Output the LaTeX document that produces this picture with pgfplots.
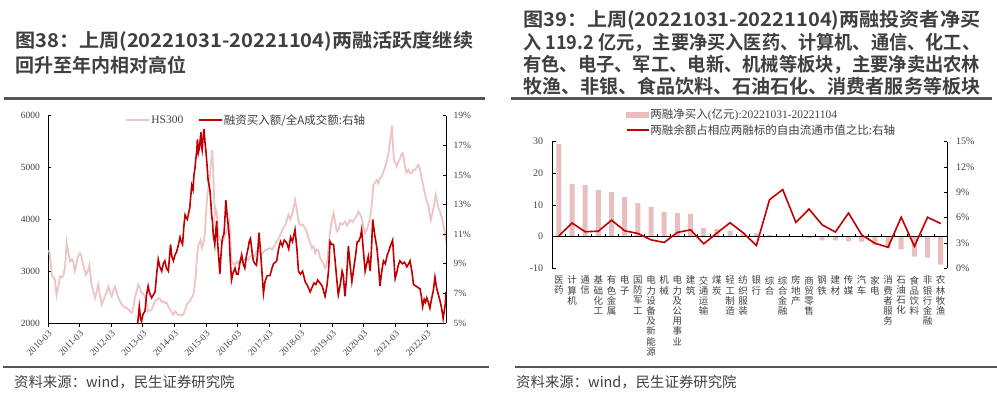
\documentclass[border=0pt]{standalone}
\usepackage{fontspec}
\usepackage{graphicx}
\setmainfont{Liberation Serif}
\newfontfamily\cjk{Noto Sans CJK SC}
\newfontfamily\cjkb{Noto Sans CJK SC Bold}
\usepackage{pgfplots}
\usepackage{pgfplotstable}
\pgfplotsset{compat=1.18}
\definecolor{hspink}{HTML}{ECC4C4}
\definecolor{dred}{HTML}{C00000}
\definecolor{bpink}{HTML}{E8BEBE}
\definecolor{txt}{HTML}{404040}
\definecolor{ttl}{HTML}{3F3F3F}
\definecolor{sepc}{HTML}{555555}

\pgfplotstableread{
x y
2010.17 3400
2010.20 3380
2010.24 3200
2010.28 2930
2010.33 2880
2010.38 2835
2010.43 2546
2010.46 2650
2010.49 2707
2010.54 2900
2010.60 2880
2010.65 2920
2010.70 3090
2010.75 3540
2010.79 3400
2010.86 3190
2010.92 3230
2010.96 3180
2011.01 3000
2011.05 3100
2011.09 3250
2011.13 3300
2011.17 3350
2011.22 3280
2011.26 3150
2011.31 3050
2011.36 2930
2011.42 3000
2011.47 3120
2011.50 2950
2011.54 2740
2011.60 2600
2011.65 2480
2011.70 2600
2011.75 2740
2011.80 2550
2011.86 2355
2011.92 2450
2011.96 2515
2012.02 2600
2012.07 2707
2012.12 2600
2012.18 2515
2012.23 2620
2012.28 2707
2012.33 2600
2012.39 2480
2012.44 2420
2012.49 2355
2012.55 2330
2012.60 2290
2012.65 2300
2012.70 2260
2012.75 2230
2012.81 2195
2012.86 2300
2012.91 2480
2012.96 2600
2013.02 2740
2013.07 2680
2013.12 2580
2013.18 2560
2013.23 2515
2013.28 2400
2013.33 2225
2013.38 2240
2013.44 2260
2013.50 2350
2013.55 2420
2013.62 2460
2013.70 2480
2013.76 2400
2013.81 2420
2013.86 2380
2013.91 2400
2013.96 2330
2014.02 2260
2014.08 2200
2014.13 2160
2014.18 2230
2014.23 2200
2014.29 2150
2014.34 2160
2014.39 2150
2014.44 2160
2014.50 2250
2014.55 2355
2014.60 2400
2014.65 2420
2014.70 2480
2014.76 2545
2014.80 2700
2014.84 2930
2014.88 3300
2014.92 3510
2014.96 3550
2014.99 3605
2015.03 3450
2015.07 3510
2015.10 3600
2015.13 3770
2015.18 4280
2015.21 4500
2015.24 4600
2015.28 4800
2015.31 5050
2015.34 5200
2015.36 5340
2015.39 4920
2015.42 4400
2015.44 4090
2015.47 4200
2015.50 4150
2015.53 3900
2015.55 3700
2015.60 3620
2015.66 3570
2015.70 3600
2015.73 3640
2015.77 3700
2015.81 3770
2015.86 3850
2015.90 3960
2015.93 3600
2015.97 3190
2016.02 3150
2016.08 3120
2016.13 3180
2016.18 3150
2016.24 3220
2016.29 3220
2016.34 3190
2016.39 3230
2016.45 3250
2016.50 3220
2016.55 3280
2016.60 3300
2016.66 3315
2016.71 3290
2016.76 3380
2016.82 3420
2016.87 3350
2016.93 3320
2016.98 3380
2017.04 3400
2017.10 3420
2017.19 3445
2017.26 3420
2017.32 3480
2017.40 3570
2017.46 3620
2017.52 3720
2017.61 3830
2017.68 3900
2017.77 4090
2017.83 4000
2017.88 4090
2017.93 4200
2017.98 4375
2018.02 4250
2018.06 4090
2018.10 3950
2018.14 3890
2018.22 3900
2018.30 3830
2018.35 3760
2018.40 3640
2018.46 3550
2018.51 3445
2018.56 3480
2018.62 3350
2018.67 3420
2018.72 3400
2018.78 3250
2018.83 3190
2018.88 3150
2018.93 3060
2018.97 3100
2019.01 3250
2019.05 3500
2019.09 3770
2019.14 3950
2019.20 4120
2019.25 3950
2019.30 3770
2019.35 3800
2019.41 3925
2019.48 3900
2019.56 3960
2019.63 3880
2019.72 3990
2019.80 3950
2019.88 4020
2019.94 4080
2019.99 4150
2020.04 4100
2020.09 4020
2020.15 3850
2020.20 3735
2020.25 3800
2020.30 3890
2020.36 4050
2020.41 4280
2020.46 4665
2020.51 4700
2020.57 4760
2020.62 4700
2020.67 4795
2020.72 4820
2020.78 4920
2020.83 5000
2020.88 5115
2020.93 5250
2020.99 5500
2021.02 5650
2021.05 5805
2021.08 5450
2021.12 5115
2021.16 5100
2021.20 5020
2021.25 5100
2021.31 5180
2021.35 5250
2021.39 5275
2021.43 5150
2021.46 5020
2021.51 4900
2021.57 4955
2021.62 4900
2021.67 4890
2021.72 4950
2021.78 4955
2021.83 5000
2021.89 5050
2021.94 4950
2021.99 4795
2022.04 4650
2022.10 4470
2022.15 4350
2022.20 4280
2022.24 4100
2022.28 3990
2022.32 4100
2022.36 4215
2022.40 4350
2022.43 4470
2022.48 4350
2022.52 4215
2022.57 4150
2022.62 4055
2022.66 3950
2022.70 3830
2022.73 3700
2022.76 3570
}\hsdata

\pgfplotstableread{
x y
2013.00 5.0
2013.05 6.1
2013.09 5.3
2013.12 5.1
2013.17 5.6
2013.23 5.8
2013.28 6.9
2013.33 7.5
2013.38 7.0
2013.44 6.7
2013.50 6.9
2013.55 7.1
2013.60 8.3
2013.65 9.3
2013.70 8.8
2013.76 8.5
2013.81 9.0
2013.86 9.2
2013.91 8.7
2013.97 8.5
2014.04 10.3
2014.08 9.5
2014.13 9.2
2014.18 9.6
2014.23 9.8
2014.28 10.2
2014.34 10.8
2014.38 10.5
2014.42 10.3
2014.46 11.5
2014.50 12.3
2014.54 12.1
2014.57 12.0
2014.61 12.4
2014.65 12.8
2014.68 13.6
2014.71 14.3
2014.75 14.0
2014.78 15.0
2014.81 15.4
2014.84 16.1
2014.87 16.6
2014.89 17.4
2014.92 16.5
2014.95 16.8
2014.98 17.4
2015.00 17.9
2015.02 17.0
2015.04 16.7
2015.07 17.5
2015.10 18.1
2015.13 17.2
2015.16 16.6
2015.20 15.5
2015.23 14.6
2015.26 14.3
2015.29 13.9
2015.32 13.0
2015.34 12.3
2015.37 11.8
2015.39 11.0
2015.42 10.6
2015.44 10.3
2015.47 11.2
2015.50 11.9
2015.52 10.8
2015.55 9.8
2015.58 9.0
2015.60 8.3
2015.63 9.4
2015.66 10.3
2015.69 10.8
2015.73 11.0
2015.76 12.0
2015.79 13.3
2015.81 12.8
2015.83 12.3
2015.87 11.5
2015.90 10.7
2015.93 9.2
2015.97 7.9
2016.02 8.4
2016.08 8.7
2016.13 8.3
2016.18 8.3
2016.23 9.0
2016.29 9.6
2016.34 9.0
2016.39 8.7
2016.44 9.5
2016.50 10.1
2016.53 10.5
2016.57 10.7
2016.62 9.8
2016.66 9.2
2016.71 9.0
2016.76 8.9
2016.80 9.8
2016.84 11.1
2016.90 9.5
2016.98 7.0
2017.03 7.8
2017.10 8.2
2017.19 8.2
2017.25 8.7
2017.30 9.0
2017.40 9.2
2017.46 10.0
2017.52 10.5
2017.58 10.2
2017.64 10.6
2017.72 10.4
2017.78 10.0
2017.84 10.8
2017.90 10.5
2017.98 11.3
2018.04 10.0
2018.09 8.5
2018.15 8.3
2018.22 8.5
2018.30 7.8
2018.38 7.5
2018.46 7.1
2018.52 7.4
2018.58 7.7
2018.64 7.6
2018.70 7.9
2018.77 7.7
2018.84 7.5
2018.93 6.8
2018.99 7.5
2019.04 8.5
2019.09 10.5
2019.14 10.3
2019.20 10.3
2019.25 9.2
2019.30 8.0
2019.35 6.9
2019.42 7.7
2019.47 8.5
2019.51 8.2
2019.56 6.8
2019.61 8.0
2019.67 10.2
2019.72 9.0
2019.78 7.8
2019.84 8.7
2019.90 9.6
2019.95 10.5
2019.99 10.5
2020.05 10.8
2020.09 11.3
2020.14 10.0
2020.20 8.5
2020.25 9.0
2020.30 9.5
2020.36 8.5
2020.40 10.0
2020.44 12.0
2020.50 11.0
2020.57 10.1
2020.62 9.0
2020.67 7.5
2020.72 8.4
2020.78 9.2
2020.84 9.0
2020.90 9.6
2020.94 9.8
2021.00 10.2
2021.07 10.6
2021.11 9.3
2021.15 8.0
2021.20 8.4
2021.25 8.9
2021.30 9.2
2021.38 9.0
2021.45 9.1
2021.52 8.8
2021.58 9.0
2021.62 9.2
2021.68 8.5
2021.73 7.6
2021.80 7.5
2021.87 7.4
2021.94 7.3
2021.98 6.8
2022.02 6.1
2022.07 6.6
2022.11 6.4
2022.15 6.7
2022.20 6.4
2022.25 6.0
2022.30 6.6
2022.36 7.2
2022.41 8.1
2022.46 7.4
2022.52 6.9
2022.57 6.5
2022.62 6.0
2022.67 5.3
2022.71 5.9
2022.74 6.3
2022.76 7.1
}\mrdata

\pgfplotstableread{
x buy ratio
0 29.3 3.85
1 16.6 5.36
2 16.3 4.33
3 14.7 4.40
4 14.1 5.70
5 12.5 4.44
6 10.6 4.13
7 9.4 3.37
8 7.8 3.06
9 7.5 4.25
10 7.2 4.56
11 2.8 2.90
12 2.4 4.17
13 1.8 5.40
14 1.0 4.20
15 1.0 2.70
16 0.6 8.13
17 0.1 9.33
18 -0.1 5.44
19 -0.5 7.02
20 -1.2 5.14
21 -1.2 4.30
22 -1.5 6.55
23 -1.6 3.96
24 -2.6 2.97
25 -3.6 2.49
26 -4.0 6.05
27 -6.3 2.60
28 -6.6 6.05
29 -8.8 5.30
}\secdata

\begin{document}
\begin{tikzpicture}
% ---------- titles ----------
\tikzset{ttlnode/.style={anchor=west, inner sep=0pt, text=ttl, font=\cjkb\fontsize{19}{19}\selectfont}}
\node[ttlnode] at (15pt,352.3pt) {\resizebox{458pt}{\height}{图38：上周(20221031-20221104)两融活跃度继续}};
\node[ttlnode] at (15pt,329pt) {回升至年内相对高位};
\node[ttlnode] at (523pt,373.3pt) {\resizebox{457pt}{\height}{图39：上周(20221031-20221104)两融投资者净买}};
\node[ttlnode] at (523pt,351.7pt) {\resizebox{457pt}{\height}{入 119.2 亿元，主要净买入医药、计算机、通信、化工、}};
\node[ttlnode] at (523pt,329pt) {\resizebox{457pt}{\height}{有色、电子、军工、电新、机械等板块，主要净卖出农林}};
\node[ttlnode] at (523pt,308pt) {\resizebox{457pt}{\height}{牧渔、非银、食品饮料、石油石化、消费者服务等板块}};
\draw[sepc, line width=2.5pt] (4pt,295.3pt) -- (485pt,295.3pt);
\draw[sepc, line width=2.5pt] (511pt,295.3pt) -- (992pt,295.3pt);
\draw[sepc, line width=2.5pt] (3pt,27pt) -- (489pt,27pt);
\draw[sepc, line width=2.5pt] (515pt,27pt) -- (997pt,27pt);
\node[anchor=west, inner sep=0pt, text=txt, font=\cjk\fontsize{14.4}{14.4}\selectfont] at (14pt,12pt) {资料来源：wind，民生证券研究院};
\node[anchor=west, inner sep=0pt, text=txt, font=\cjk\fontsize{14.4}{14.4}\selectfont] at (516pt,12pt) {资料来源：wind，民生证券研究院};

\pgfplotsset{
  every axis/.append style={
    scale only axis,
    axis line style={black, line width=0.8pt},
    tick style={black, line width=0.8pt},
    major tick length=3.5pt,
    tick align=inside,
  }
}

% ---------- left chart ----------
\begin{axis}[
  at={(48pt,71pt)}, anchor=south west,
  width=398pt, height=207.3pt,
  xmin=2010.16, xmax=2022.76, ymin=2000, ymax=6000,
  axis y line*=left, axis x line*=bottom,
  xtick={2010.16,2011.16,2012.16,2013.16,2014.16,2015.16,2016.16,2017.16,2018.16,2019.16,2020.16,2021.16,2022.16},
  xticklabels={2010-03,2011-03,2012-03,2013-03,2014-03,2015-03,2016-03,2017-03,2018-03,2019-03,2020-03,2021-03,2022-03},
  major x tick style={yshift=-3.5pt},
  xticklabel style={yshift=-7pt, rotate=45, anchor=north east, inner sep=0pt, text=txt, font=\fontsize{9.3}{10}\selectfont},
  ytick={2000,3000,4000,5000,6000},
  yticklabels={2000,3000,4000,5000,6000},
  yticklabel style={anchor=east, inner sep=0pt, xshift=-8pt, text=txt, font=\fontsize{9.5}{10}\selectfont},
]
\addplot[hspink, line width=1.8pt] table[x=x,y=y] {\hsdata};
\end{axis}
\begin{axis}[
  at={(48pt,71pt)}, anchor=south west,
  width=398pt, height=207.3pt,
  xmin=2010.16, xmax=2022.76, ymin=5, ymax=19,
  axis y line*=right, axis x line=none,
  ytick={5,7,9,11,13,15,17,19},
  yticklabels={5\%,7\%,9\%,11\%,13\%,15\%,17\%,19\%},
  yticklabel style={anchor=west, inner sep=0pt, xshift=7.5pt, text=txt, font=\fontsize{9.5}{10}\selectfont},
  legend style={draw=none, fill=none, at={(0.497,0.979)}, anchor=center, legend columns=2,
     nodes={inner sep=1pt}, text=txt, font=\fontsize{11.5}{12}\selectfont,
     /tikz/every even column/.append style={column sep=14pt}},
  legend image code/.code={\draw[#1] (0pt,0pt) -- (23pt,0pt);},
]
\addlegendimage{hspink, line width=1.8pt}
\addlegendentry{HS300}
\addplot[dred, line width=1.6pt] table[x=x,y=y] {\mrdata};
\addlegendentry{\cjk 融资买入额/全A成交额:右轴}
\end{axis}

% ---------- right chart ----------
\begin{axis}[
  at={(552.3pt,125.7pt)}, anchor=south west,
  width=395pt, height=126.6pt,
  xmin=-0.5, xmax=29.5, ymin=-10, ymax=30,
  axis y line*=left, axis x line*=bottom,
  x axis line style={draw=none},
  major x tick style={draw=none},
  xtick={0,...,29},
  xticklabels={{医\\药},{计\\算\\机},{通\\信},{基\\础\\化\\工},{有\\色\\金\\属},{电\\子},{国\\防\\军\\工},{电\\力\\设\\备\\及\\新\\能\\源},{机\\械},{电\\力\\及\\公\\用\\事\\业},{建\\筑},{交\\通\\运\\输},{煤\\炭},{轻\\工\\制\\造},{纺\\织\\服\\装},{银\\行},{综\\合},{综\\合\\金\\融},{房\\地\\产},{商\\贸\\零\\售},{钢\\铁},{建\\材},{传\\媒},{汽\\车},{家\\电},{消\\费\\者\\服\\务},{石\\油\\石\\化},{食\\品\\饮\\料},{非\\银\\行\\金\\融},{农\\林\\牧\\渔}},
  xticklabel style={anchor=north, yshift=-7.5pt, inner sep=0pt, align=center, text=txt, font=\cjk\fontsize{9.5}{10.2}\selectfont},
  ytick={-10,0,10,20,30},
  yticklabels={-10,0,10,20,30},
  yticklabel style={anchor=east, inner sep=0pt, xshift=-9pt, text=txt, font=\fontsize{10}{10}\selectfont},
]
\addplot[ybar, bar width=5pt, fill=bpink, draw=none] table[x=x,y=buy] {\secdata};
\draw[black, line width=0.8pt] (axis cs:-0.5,0) -- (axis cs:29.5,0);
\pgfplotsinvokeforeach{0.5,1.5,2.5,3.5,4.5,5.5,6.5,7.5,8.5,9.5,10.5,11.5,12.5,13.5,14.5,15.5,16.5,17.5,18.5,19.5,20.5,21.5,22.5,23.5,24.5,25.5,26.5,27.5,28.5}{
  \draw[black, line width=0.8pt] (axis cs:#1,0) -- ++(0pt,3pt);
}
\end{axis}
\begin{axis}[
  at={(552.3pt,125.7pt)}, anchor=south west,
  width=395pt, height=126.6pt,
  xmin=-0.5, xmax=29.5, ymin=0, ymax=15,
  axis y line*=right, axis x line=none,
  ytick={0,3,6,9,12,15},
  yticklabels={0\%,3\%,6\%,9\%,12\%,15\%},
  yticklabel style={anchor=west, inner sep=0pt, xshift=8.5pt, text=txt, font=\fontsize{10}{10}\selectfont},
  legend style={draw=none, fill=none, at={(0.178,1.153)}, anchor=west, legend cell align=left,
     nodes={inner sep=1pt}, row sep=2.5pt, text=txt, font=\fontsize{11.5}{12}\selectfont},
  legend image code/.code={\draw[#1] (0pt,0pt) -- (22pt,0pt);},
]
\addlegendimage{legend image code/.code={\fill[bpink] (0pt,-2.5pt) rectangle (22pt,2.5pt);}}
\addlegendentry{{\cjk 两融净买入}({\cjk 亿元}):20221031-20221104}
\addplot[dred, line width=1.6pt] table[x=x,y=ratio] {\secdata};
\addlegendentry{\cjk 两融余额占相应两融标的自由流通市值之比:右轴}
\end{axis}

\pgfresetboundingbox
\path[use as bounding box] (0pt,0pt) rectangle (997pt,394pt);
\end{tikzpicture}
\end{document}
